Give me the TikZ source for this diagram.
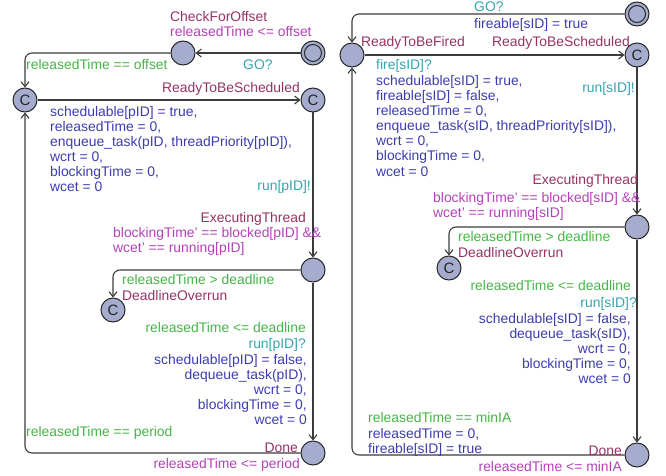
\documentclass[tikz,border=0pt]{standalone}
\usepackage{fontspec}
\setmainfont{Liberation Sans}
\usetikzlibrary{arrows.meta}
\definecolor{namec}{RGB}{150,50,100}
\definecolor{invc}{RGB}{180,65,185}
\definecolor{guardc}{RGB}{70,180,70}
\definecolor{syncc}{RGB}{50,165,175}
\definecolor{updc}{RGB}{60,60,175}
\definecolor{locfill}{RGB}{165,172,205}
\definecolor{locdraw}{RGB}{40,40,40}
\definecolor{edgec}{RGB}{60,60,60}
\newcommand\upL[1]{\vtop{\halign{##\hfil\cr#1\crcr}}}
\newcommand\upR[1]{\vtop{\halign{\hfil##\cr#1\crcr}}}
\tikzset{
  loc/.style={circle, draw=locdraw, fill=locfill, line width=1pt, minimum size=24pt, inner sep=0pt},
  comm/.style={loc, font=\fontsize{15}{15}\selectfont, text=black!85},
  initloc/.style={loc, path picture={\draw[locdraw, line width=1pt] (path picture bounding box.center) circle (8.5pt);}},
  edge/.style={draw=edgec, line width=1.1pt, -{Straight Barb[length=5pt,width=8pt]}, rounded corners=7pt},
  lbl/.style={inner sep=0pt, font=\fontsize{13.9}{15}\selectfont},
  lname/.style={lbl, text=namec},
  linv/.style={lbl, text=invc},
  lguard/.style={lbl, text=guardc},
  lsync/.style={lbl, text=syncc},
  lupd/.style={lbl, text=updc},
  W/.style={anchor=base west},
  E/.style={anchor=base east}
}
\begin{document}
\begin{tikzpicture}[x=1pt, y=-1pt]
\useasboundingbox (0,0) rectangle (666,476);
% ---------- left automaton ----------
\node[initloc] (init1) at (313,53) {};
\node[loc] (cfo) at (183,53) {};
\node[comm] (c1) at (25,100) {C};
\node[comm] (rts1) at (313,100) {C};
\node[loc] (exec1) at (313,270) {};
\node[comm] (dl1) at (113,310) {C};
\node[loc] (done1) at (313,453) {};

\draw[edge] (init1) -- (cfo);
\draw[edge] (cfo) -| (c1);
\draw[edge] (c1) -- (rts1);
\draw[edge] (rts1) -- (exec1);
\draw[edge] (exec1) -| (dl1);
\draw[edge] (exec1) -- (done1);
\draw[edge] (done1) -| (c1);

\node[lname,W] (n1) at (170,22) {CheckForOffset};
\node[linv,W] (i1) at (170,37) {releasedTime <= offset};
\node[lsync,W] (s1) at (243,70) {GO?};
\node[lguard,W] (g1) at (26,70) {releasedTime == offset};
\node[lname,W] (n2) at (162,93) {ReadyToBeScheduled};
\node[lupd,W] (u1) at (50,117) {\upL{schedulable[pID] = true,\cr releasedTime = 0,\cr enqueue\_task(pID, threadPriority[pID]),\cr wcrt = 0,\cr blockingTime = 0,\cr wcet = 0}};
\node[lsync,E] (s2) at (311,190) {run[pID]!};
\node[lname,E] (n3) at (306,222) {ExecutingThread};
\node[linv,W] (i2) at (113,237) {\upL{blockingTime' == blocked[pID] \&\&\cr wcet' == running[pID]}};
\node[lguard,W] (g2) at (122,284) {releasedTime > deadline};
\node[lname,W] (n4) at (122,300) {DeadlineOverrun};
\node[lguard,E] (g3) at (306,332) {releasedTime <= deadline};
\node[lsync,E] (s3) at (306,348) {run[pID]?};
\node[lupd,E] (u2) at (307,364) {\upR{schedulable[pID] = false,\cr dequeue\_task(pID),\cr wcrt = 0,\cr blockingTime = 0,\cr wcet = 0}};
\node[lguard,W] (g4) at (26,436) {releasedTime == period};
\node[lname,E] (n5) at (298,452) {Done};
\node[linv,E] (i3) at (300,468) {releasedTime <= period};

% ---------- right automaton ----------
\node[initloc] (init2) at (637,14) {};
\node[loc] (rtbf) at (352,55) {};
\node[comm] (rts2) at (637,55) {C};
\node[loc] (exec2) at (637,227) {};
\node[comm] (dl2) at (449,268) {C};
\node[loc] (done2) at (637,455) {};

\draw[edge] (init2) -| (rtbf);
\draw[edge] (rtbf) -- (rts2);
\draw[edge] (rts2) -- (exec2);
\draw[edge] (exec2) -| (dl2);
\draw[edge] (exec2) -- (done2);
\draw[edge] (done2) -| (rtbf);

\node[lsync,W] (s4) at (474,12) {GO?};
\node[lupd,W] (u3) at (474,29) {fireable[sID] = true};
\node[lname,W] (n6) at (361,47) {ReadyToBeFired};
\node[lname,W] (n7) at (492,47) {ReadyToBeScheduled};
\node[lsync,W] (s5) at (376,70) {fire[sID]?};
\node[lupd,W] (u4) at (376,86) {\upL{schedulable[sID] = true,\cr fireable[sID] = false,\cr releasedTime = 0,\cr enqueue\_task(sID, threadPriority[sID]),\cr wcrt = 0,\cr blockingTime = 0,\cr wcet = 0}};
\node[lsync,E] (s6) at (635,93) {run[sID]!};
\node[lname,E] (n8) at (638,184) {ExecutingThread};
\node[linv,W] (i4) at (433,202) {\upL{blockingTime' == blocked[sID] \&\&\cr wcet' == running[sID]}};
\node[lguard,W] (g5) at (458,241) {releasedTime > deadline};
\node[lname,W] (n9) at (458,257) {DeadlineOverrun};
\node[lguard,E] (g6) at (631,290) {releasedTime <= deadline};
\node[lsync,E] (s7) at (637,307) {run[sID]?};
\node[lupd,E] (u5) at (631,323) {\upR{schedulable[sID] = false,\cr dequeue\_task(sID),\cr wcrt = 0,\cr blockingTime = 0,\cr wcet = 0}};
\node[lguard,W] (g7) at (368,422) {releasedTime == minIA};
\node[lupd,W] (u6) at (368,438) {\upL{releasedTime = 0,\cr fireable[sID] = true}};
\node[lname,E] (n10) at (622,455) {Done};
\node[linv,E] (i5) at (622,471) {releasedTime <= minIA};
\end{tikzpicture}
\end{document}
